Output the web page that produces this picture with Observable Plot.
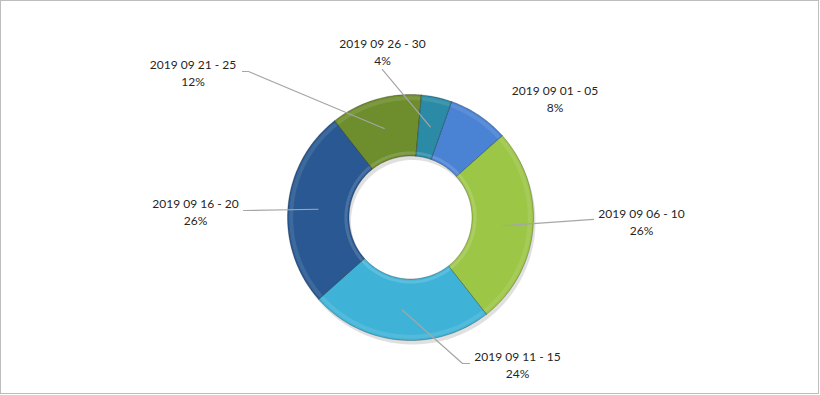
<!DOCTYPE html>
<html><head><meta charset="utf-8">
<script src="https://cdn.jsdelivr.net/npm/d3@7"></script>
<script src="https://cdn.jsdelivr.net/npm/@observablehq/plot@0.6"></script>
<style>
body{margin:0;background:#fff;}
#wrap{position:relative;width:820px;height:395px;overflow:hidden;background:#fff;}
#frame{position:absolute;left:0;top:0;width:819px;height:394px;box-sizing:border-box;border:1px solid #bdbdbd;pointer-events:none;}
</style></head><body><div id="wrap"><div id="frame"></div></div>
<script>
// ---- data ----
const categories = ["2019 09 01 - 05", "2019 09 06 - 10", "2019 09 11 - 15", "2019 09 16 - 20", "2019 09 21 - 25", "2019 09 26 - 30"];
const shares = [8, 26, 24, 26, 12, 4];
const percentLabels = ["8%", "26%", "24%", "26%", "12%", "4%"];
const colors = ["#4a82d4", "#9cc646", "#3fb3d7", "#295892", "#6e8d2c", "#2b8aa6"];

// ---- layout (radius units, y up) ----
const startAngle = 19.5;      // degrees, clockwise from 12 o'clock
const innerR = 0.5, outerR = 1, leaderR = 0.755;
const labelPos = [[1.175, 0.972], [1.878, -0.028], [0.870, -1.191], [-1.748, 0.053], [-1.768, 1.183], [-0.228, 1.350]];
const leaderEnds = [null, [[1.488, -0.016]], [[0.423, -1.187], [0.480, -1.187]], [[-1.358, 0.057]], [[-1.317, 1.187], [-1.366, 1.187]], [[-0.228, 1.203]]];

const total = d3.sum(shares);
const rad = a => a * Math.PI / 180;
const pt = (a, r) => [r * Math.sin(rad(a)), r * Math.cos(rad(a))];

let acc = startAngle;
const slices = categories.map((c, i) => {
  const a0 = acc, a1 = acc + shares[i] / total * 360;
  acc = a1;
  return {cat: c, a0, a1, mid: (a0 + a1) / 2, i};
});

const arcPts = (a0, a1, r) => {
  const n = Math.max(2, Math.ceil((a1 - a0) / 1));
  return d3.range(n + 1).map(k => pt(a0 + (a1 - a0) * k / n, r));
};

const polys = [];
slices.forEach(s => {
  const ring = [...arcPts(s.a0, s.a1, outerR), ...arcPts(s.a0, s.a1, innerR).reverse()];
  ring.push(ring[0]);
  ring.forEach(([x, y]) => polys.push({cat: s.cat, x, y}));
});
const shadow = [...arcPts(0, 360, outerR), ...arcPts(0, 360, innerR).reverse()].map(([x, y]) => ({x, y}));
const hiOuter = [], hiInner = [];
slices.forEach(s => {
  arcPts(s.a0 + 1.2, s.a1 - 1.2, 0.97).forEach(([x, y]) => hiOuter.push({cat: s.cat, x, y}));
  arcPts(s.a0 + 1.5, s.a1 - 1.5, 0.525).forEach(([x, y]) => hiInner.push({cat: s.cat, x, y}));
});

const leaders = [];
slices.forEach(s => {
  const ends = leaderEnds[s.i];
  if (!ends) return;
  const [x0, y0] = pt(s.mid, leaderR);
  leaders.push({cat: s.cat, x: x0, y: y0});
  ends.forEach(([x, y]) => leaders.push({cat: s.cat, x, y}));
});

const labels = slices.map(s => ({
  x: labelPos[s.i][0], y: labelPos[s.i][1],
  text: categories[s.i] + "\n" + percentLabels[s.i]
}));

const R = 123, cx = 410, cy = 217, W = 820, H = 395;
const chart = Plot.plot({
  width: W, height: H,
  margin: 0,
  x: {domain: [-cx / R, (W - cx) / R], range: [0, W], axis: null},
  y: {domain: [-(H - cy) / R, cy / R], range: [H, 0], axis: null},
  color: {domain: categories, range: colors},
  style: {background: "transparent"},
  marks: [
    Plot.line(shadow, {x: "x", y: "y", fill: "#000", fillOpacity: 0.12, stroke: "none", dx: 2, dy: 4}),
    Plot.line(polys, {x: "x", y: "y", z: "cat", fill: "cat", stroke: "#000", strokeOpacity: 0.25, strokeWidth: 1, curve: "linear"}),
    Plot.line(hiOuter, {x: "x", y: "y", z: "cat", stroke: "#fff", strokeOpacity: 0.1, strokeWidth: 4}),
    Plot.line(hiInner, {x: "x", y: "y", z: "cat", stroke: "#fff", strokeOpacity: 0.15, strokeWidth: 3}),
    Plot.line(leaders, {x: "x", y: "y", z: "cat", stroke: "#a6a6a6", strokeWidth: 1.2}),
    Plot.text(labels, {x: "x", y: "y", text: "text", fill: "#262626", fontSize: 12, lineHeight: 1.42, fontFamily: "Lato, sans-serif"})
  ]
});
document.getElementById("wrap").insertBefore(chart, document.getElementById("frame"));
</script>
</body></html>
